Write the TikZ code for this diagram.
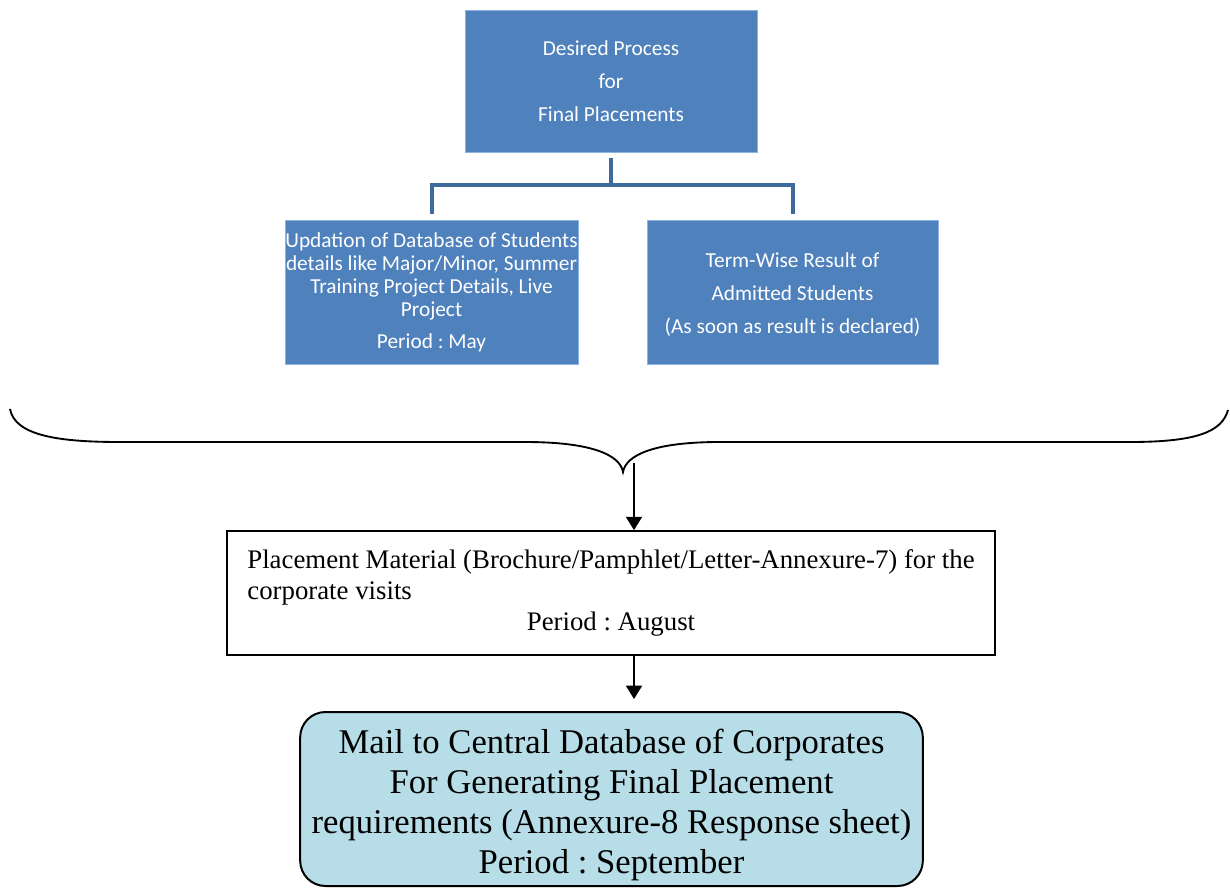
\documentclass[tikz,border=0pt]{standalone}
\usepackage{fontspec}
\setmainfont{Liberation Serif}
\newfontfamily\calib{Carlito}
\usetikzlibrary{arrows.meta,positioning}
\frenchspacing
\definecolor{boxblue}{HTML}{4F81BD}
\definecolor{edgeblue}{HTML}{8DB3E2}
\definecolor{treeblue}{HTML}{3F6A9E}
\definecolor{mailfill}{HTML}{B7DEE8}
\tikzset{
 bluebox/.style={fill=boxblue,draw=edgeblue,line width=0.5pt,text=white,
   align=center,inner sep=0pt},
 tree/.style={draw=treeblue,line width=3pt},
 flow/.style={line width=1.4pt,-{Triangle[width=12pt,length=10pt]}}
}
\begin{document}
\begin{tikzpicture}[x=0.75pt,y=-0.75pt]
\useasboundingbox (0,0) rectangle (1230,888);
% top of the tree
\node (title)[bluebox,minimum width=219pt,minimum height=106.5pt,
  font=\calib\fontsize{16}{24.75}\selectfont] at (611,81)
  {Desired Process\\for\\Final Placements};
\node (upd)[bluebox,minimum width=219.75pt,minimum height=108pt,
  font=\calib\fontsize{16}{17.25}\selectfont] at (431.5,292)
  {Updation of Database of Students\\details like Major/Minor, Summer\\
   Training Project Details, Live\\Project\\[6.75pt]Period : May};
\node (res)[bluebox,minimum width=218.25pt,minimum height=108pt,
  font=\calib\fontsize{16}{24.75}\selectfont] at (792.5,292)
  {\rule{0pt}{15pt}Term-Wise Result of\\Admitted Students\\(As soon as result is declared)};
\draw[tree,shorten <=4pt,shorten >=4pt] (title.south) -- ++(0,33) -| (upd.north);
\draw[tree,shorten <=4pt,shorten >=4pt] (title.south) -- ++(0,33) -| (res.north);
% the brace
\draw[line width=1.4pt] (10,409) .. controls (15,436) and (60,442) .. (120,442)
  -- (525,442) .. controls (592,442) and (620,455) .. (623,472)
  .. controls (626,455) and (654,442) .. (720,442)
  -- (1130,442) .. controls (1196,442) and (1222,432) .. (1228,410);
\coordinate (tip) at (634,463);
\node (mat)[draw,line width=1.3pt,minimum width=576pt,minimum height=93pt,inner sep=0pt,
  font=\fontsize{20.1}{23.25}\selectfont] at (611,593)
  {\begin{tabular}{@{}l@{}}
   Placement Material (Brochure/Pamphlet/Letter-Annexure-7) for the\\
   corporate visits\\
   \multicolumn{1}{@{}c@{}}{Period : August}
   \end{tabular}};
\node (mail)[draw,line width=1.5pt,fill=mailfill,rounded corners=19pt,
  minimum width=467pt,minimum height=130.5pt,align=center,inner sep=0pt,
  font=\fontsize{26}{30}\selectfont] at (611.5,799)
  {\rule{0pt}{27pt}Mail to Central Database of Corporates\\For Generating Final Placement\\
   requirements (Annexure-8 Response sheet)\\Period : September};
\draw[flow] (tip) -- (tip |- mat.north);
\draw[flow,shorten >=9pt] (tip |- mat.south) -- (tip |- mail.north);
\end{tikzpicture}
\end{document}
